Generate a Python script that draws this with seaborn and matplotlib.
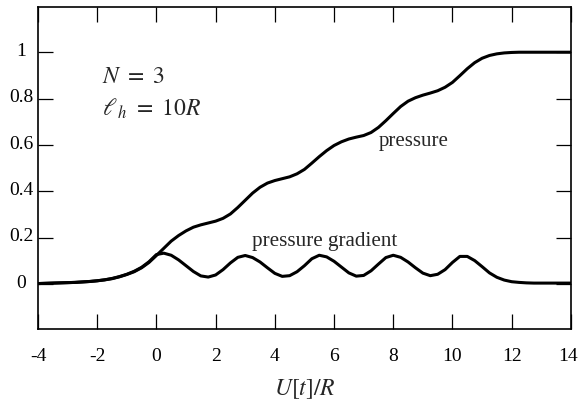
import numpy as np
import pandas as pd
import matplotlib
matplotlib.use("Agg")
import matplotlib.pyplot as plt
import matplotlib.transforms as mtransforms
import seaborn as sns

# ---- data ----
x_vals = [-4.0, -3.75, -3.5, -3.25, -3.0, -2.75, -2.5, -2.25, -2.0, -1.75, -1.5, -1.25,
          -1.0, -0.75, -0.5, -0.25, 0.0, 0.25, 0.5, 0.75, 1.0, 1.25, 1.5, 1.75,
          2.0, 2.25, 2.5, 2.75, 3.0, 3.25, 3.5, 3.75, 4.0, 4.25, 4.5, 4.75,
          5.0, 5.25, 5.5, 5.75, 6.0, 6.25, 6.5, 6.75, 7.0, 7.25, 7.5, 7.75,
          8.0, 8.25, 8.5, 8.75, 9.0, 9.25, 9.5, 9.75, 10.0, 10.25, 10.5, 10.75,
          11.0, 11.25, 11.5, 11.75, 12.0, 12.25, 12.5, 12.75, 13.0, 13.25, 13.5, 13.75, 14.0]

pressure = [0.003, 0.004, 0.005, 0.006, 0.007, 0.008, 0.010, 0.012, 0.015, 0.019, 0.024, 0.032,
            0.042, 0.054, 0.071, 0.094, 0.124, 0.155, 0.186, 0.210, 0.230, 0.246, 0.256, 0.264,
            0.272, 0.284, 0.303, 0.331, 0.362, 0.393, 0.418, 0.436, 0.447, 0.455, 0.463, 0.476,
            0.495, 0.522, 0.550, 0.576, 0.598, 0.614, 0.626, 0.634, 0.641, 0.654, 0.676, 0.705,
            0.736, 0.766, 0.789, 0.804, 0.815, 0.824, 0.834, 0.849, 0.870, 0.899, 0.929, 0.955,
            0.974, 0.986, 0.993, 0.997, 0.999, 1.0, 1.0, 1.0, 1.0, 1.0, 1.0, 1.0, 1.0]

gradient = [0.003, 0.004, 0.005, 0.006, 0.007, 0.008, 0.010, 0.012, 0.015, 0.019, 0.025, 0.033,
            0.043, 0.056, 0.073, 0.097, 0.128, 0.134, 0.125, 0.105, 0.080, 0.055, 0.036, 0.031,
            0.040, 0.063, 0.092, 0.116, 0.124, 0.115, 0.096, 0.071, 0.047, 0.034, 0.037, 0.054,
            0.080, 0.110, 0.125, 0.118, 0.099, 0.074, 0.049, 0.035, 0.038, 0.058, 0.087, 0.115,
            0.125, 0.116, 0.096, 0.071, 0.048, 0.037, 0.043, 0.063, 0.094, 0.120, 0.120, 0.102,
            0.076, 0.049, 0.030, 0.018, 0.011, 0.008, 0.006, 0.005, 0.005, 0.005, 0.005, 0.005, 0.005]

x_ticks = [-4, -2, 0, 2, 4, 6, 8, 10, 12, 14]
x_ticklabels = ["-4", "-2", "0", "2", "4", "6", "8", "10", "12", "14"]
y_ticks = [0, 0.2, 0.4, 0.6, 0.8, 1.0]
y_ticklabels = ["0", "0.2", "0.4", "0.6", "0.8", "1"]

# ---- style ----
sns.set_theme(style="ticks")
plt.rcParams["font.family"] = ["Liberation Serif", "DejaVu Serif"]
plt.rcParams["mathtext.fontset"] = "stix"

fig = plt.figure(figsize=(5.79, 4.02), dpi=100)
ax = fig.add_axes([0.0656, 0.179, 0.9204, 0.800])

df = pd.DataFrame({
    "x": x_vals * 2,
    "y": pressure + gradient,
    "series": ["pressure"] * len(x_vals) + ["gradient"] * len(x_vals),
})
sns.lineplot(data=df, x="x", y="y", units="series", estimator=None,
             color="black", linewidth=2.2, ax=ax, legend=False, sort=False)

ax.set_xlim(-4, 14)
ax.set_ylim(-0.193, 1.193)
ax.set_xticks(x_ticks, x_ticklabels)
ax.set_yticks(y_ticks, y_ticklabels)
ax.tick_params(direction="in", top=True, right=True, length=10.8, width=0.9,
               colors="black", labelsize=14)
ax.tick_params(axis="x", pad=13)
ax.tick_params(axis="y", pad=12)
for lab in ax.get_yticklabels():
    lab.set_horizontalalignment("center")
off = mtransforms.ScaledTranslation(0, 4 / 100, fig.dpi_scale_trans)
for lab in ax.get_yticklabels():
    lab.set_transform(lab.get_transform() + off)
# keep the last x label inside the canvas
last = ax.get_xticklabels()[-1]
last.set_horizontalalignment("right")
last.set_transform(last.get_transform() +
                   mtransforms.ScaledTranslation(7 / 100, 0, fig.dpi_scale_trans))

for s in ax.spines.values():
    s.set_linewidth(1.2)
    s.set_color("black")

ax.set_xlabel("$U[t]/R$", fontsize=17, labelpad=9)
ax.set_ylabel("")

ax.text(-1.84, 0.87, "$N\\ =\\ 3$", fontsize=17, ha="left", va="baseline")
ax.text(-1.84, 0.73, "$\\ell_{\\,h}\\ =\\ 10R$", fontsize=17, ha="left", va="baseline")
ax.text(8.70, 0.60, "pressure", fontsize=15, ha="center", va="baseline")
ax.text(5.68, 0.17, "pressure gradient", fontsize=15.2, ha="center", va="baseline")

fig.savefig("out.png", dpi=100)
